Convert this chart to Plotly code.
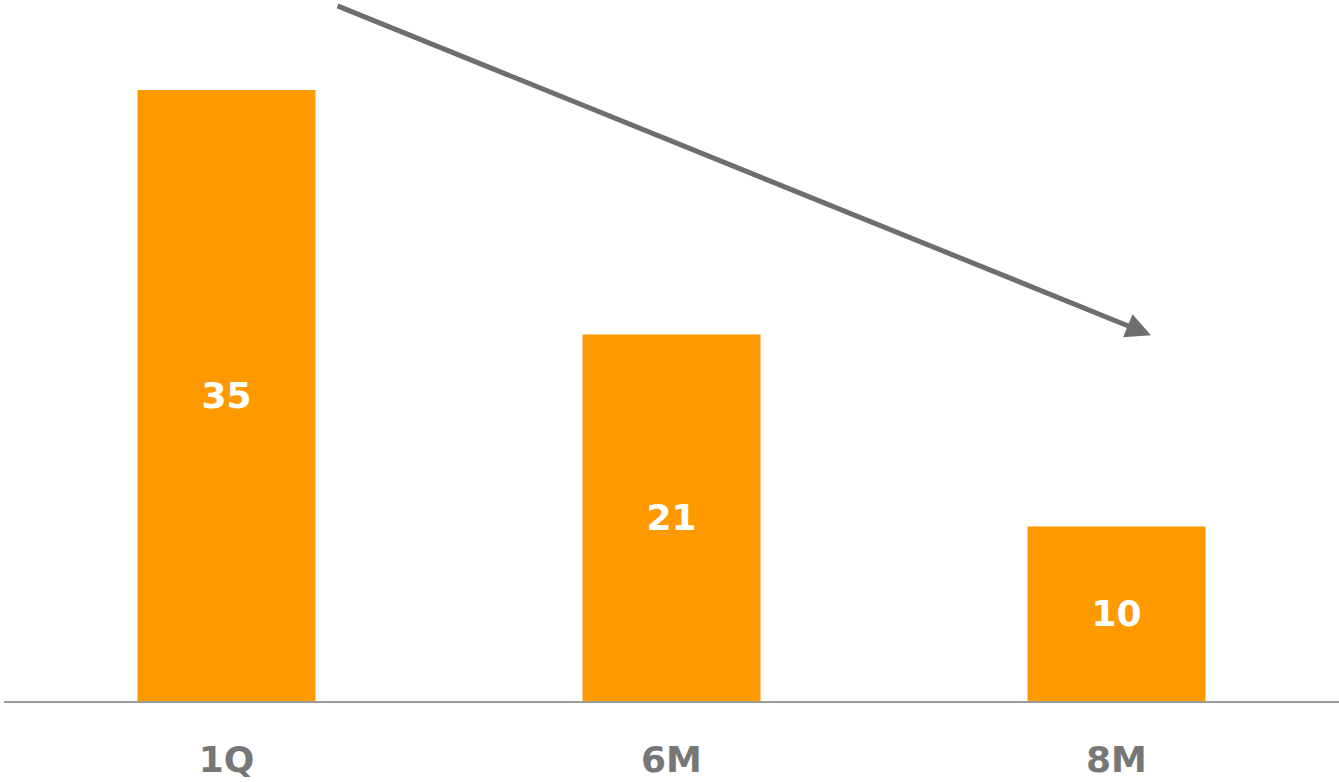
import plotly.graph_objects as go

categories = ["1Q", "6M", "8M"]
values = [35, 21, 10]

# trend arrow (data coordinates): tail -> tip
arrow_tail = (0.246, 39.86)
arrow_tip = (2.0775, 20.96)

fig = go.Figure()
fig.add_trace(go.Bar(
    x=categories,
    y=values,
    width=0.4,
    marker=dict(color="#FF9900", line=dict(width=0)),
    text=[str(v) for v in values],
    textposition="inside",
    insidetextanchor="middle",
    textangle=0,
    textfont=dict(family="DejaVu Sans", size=36, color="white", weight="bold"),
    hoverinfo="skip",
))

fig.add_annotation(
    x=arrow_tip[0], y=arrow_tip[1], xref="x", yref="y",
    ax=arrow_tail[0], ay=arrow_tail[1], axref="x", ayref="y",
    text="", showarrow=True,
    arrowhead=2, arrowsize=1.0, arrowwidth=5, arrowcolor="#6e6e6e",
    standoff=0, startstandoff=0,
)

fig.update_layout(
    width=1339, height=782,
    margin=dict(l=4, r=0, t=0, b=81),
    paper_bgcolor="white", plot_bgcolor="white",
    showlegend=False,
    uniformtext=dict(minsize=10, mode="show"),
    xaxis=dict(
        range=[-0.5, 2.5],
        showline=True, linecolor="#9a9a9a", linewidth=2,
        showgrid=False, zeroline=False, ticks="",
        tickfont=dict(family="DejaVu Sans", size=36, color="#777777", weight="bold"),
        ticklabelstandoff=26,
    ),
    yaxis=dict(
        range=[0, 40.16],
        visible=False, showgrid=False, zeroline=False,
    ),
)

fig.write_html("out.html")
